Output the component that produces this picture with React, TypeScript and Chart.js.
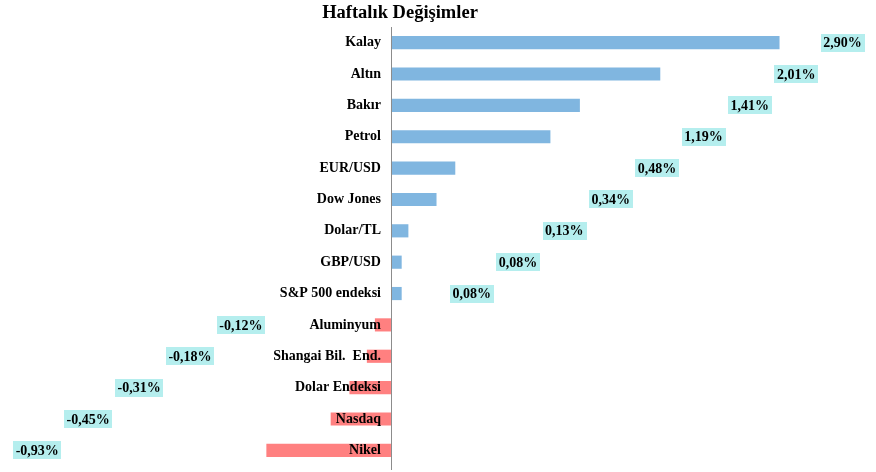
import React, { useEffect, useRef } from "react";
import { Chart, registerables } from "chart.js";

Chart.register(...registerables);

const title = "Haftalık Değişimler";
const categories = [
  "Kalay",
  "Altın",
  "Bakır",
  "Petrol",
  "EUR/USD",
  "Dow Jones",
  "Dolar/TL",
  "GBP/USD",
  "S&P 500 endeksi",
  "Aluminyum",
  "Shangai Bil.  End.",
  "Dolar Endeksi",
  "Nasdaq",
  "Nikel",
];
const values = [2.9, 2.01, 1.41, 1.19, 0.48, 0.34, 0.13, 0.08, 0.08, -0.12, -0.18, -0.31, -0.45, -0.93];

const POS_COLOR = "#80b6e0";
const NEG_COLOR = "#ff8080";
const LABEL_BG = "#b5eeee";
const SERIF = "'Liberation Serif', 'Times New Roman', serif";

function fmt(v: number) {
  return v.toFixed(2).replace(".", ",") + "%";
}

const overlayPlugin = {
  id: "overlay",
  afterDatasetsDraw(chart: any) {
    const ctx = chart.ctx as CanvasRenderingContext2D;
    const xs = chart.scales.x;
    const ys = chart.scales.y;
    const area = chart.chartArea;
    const zero = xs.getPixelForValue(0);
    ctx.save();
    // axis line
    ctx.strokeStyle = "#8c8c8c";
    ctx.lineWidth = 1;
    ctx.beginPath();
    ctx.moveTo(Math.round(zero) + 0.5, area.top);
    ctx.lineTo(Math.round(zero) + 0.5, area.bottom + 4);
    ctx.stroke();

    // category labels
    ctx.fillStyle = "#000";
    ctx.font = `bold 14px ${SERIF}`;
    ctx.textAlign = "right";
    ctx.textBaseline = "middle";
    categories.forEach((c, i) => {
      ctx.fillText(c, zero - 10, ys.getPixelForValue(i));
    });

    // value labels (staircase placement as in the original)
    ctx.font = `bold 14px ${SERIF}`;
    ctx.textAlign = "center";
    let posIdx = 0;
    let negIdx = 0;
    values.forEach((v, i) => {
      let anchor: number;
      if (v >= 0) {
        anchor = 3.37 - posIdx * 0.346;
        posIdx++;
      } else {
        anchor = -1.12 - negIdx * 0.38;
        negIdx++;
      }
      const cx = xs.getPixelForValue(anchor);
      const cy = ys.getPixelForValue(i);
      const t = fmt(v);
      const w = ctx.measureText(t).width + 5;
      const h = 18;
      ctx.fillStyle = LABEL_BG;
      ctx.fillRect(Math.round(cx - w / 2), Math.round(cy - h / 2), Math.round(w), h);
      ctx.fillStyle = "#000";
      ctx.fillText(t, cx, cy + 1);
    });

    // title
    ctx.font = `bold 18.5px ${SERIF}`;
    ctx.textAlign = "center";
    ctx.fillText(title, 400, 13);
    ctx.restore();
  },
};

export default function App() {
  const ref = useRef<HTMLCanvasElement | null>(null);
  useEffect(() => {
    document.body.style.margin = "0";
    if (!ref.current) return;
    const chart = new Chart(ref.current, {
      type: "bar",
      data: {
        labels: categories,
        datasets: [
          {
            data: values,
            backgroundColor: values.map((v) => (v >= 0 ? POS_COLOR : NEG_COLOR)),
            borderWidth: 0,
            barPercentage: 0.42,
            categoryPercentage: 1,
          },
        ],
      },
      options: {
        indexAxis: "y",
        responsive: false,
        animation: false,
        layout: { padding: { top: 27, bottom: 6, left: 0, right: 0 } },
        plugins: {
          legend: { display: false },
          title: { display: false },
          tooltip: { enabled: false },
        },
        scales: {
          x: { display: false, min: -2.918, max: 3.62 },
          y: { display: false },
        },
      },
      plugins: [overlayPlugin],
    });
    return () => chart.destroy();
  }, []);
  return (
    <div style={{ width: 876, height: 472, background: "#fff" }}>
      <canvas ref={ref} width={876} height={472} style={{ display: "block" }} />
    </div>
  );
}
